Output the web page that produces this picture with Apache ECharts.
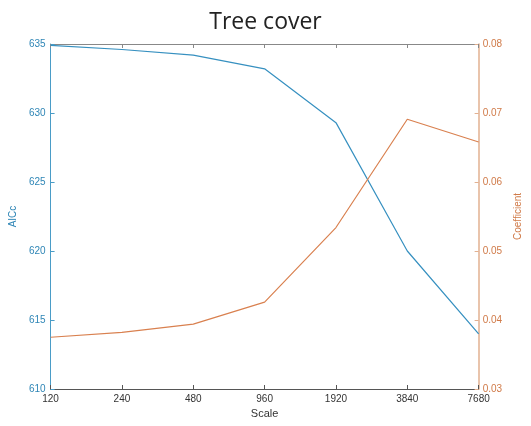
<!DOCTYPE html>
<html>
<head>
<meta charset="utf-8">
<script src="https://cdn.jsdelivr.net/npm/echarts@6/dist/echarts.min.js"></script>
<style>
  html, body { margin: 0; padding: 0; background: #fff; }
  #chart { width: 531px; height: 426px; }
</style>
</head>
<body>
<div id="chart"></div>
<script>
const scales = ['120', '240', '480', '960', '1920', '3840', '7680'];
const aicc = [634.9, 634.6, 634.2, 633.2, 629.3, 620.0, 614.0];
const coefficient = [0.0375, 0.0382, 0.0394, 0.0426, 0.0534, 0.0691, 0.0658];

const BLUE = '#2f86b6';
const ORANGE = '#d07a48';
const TICK_FONT = 'Liberation Sans, Arial, sans-serif';

const chart = echarts.init(document.getElementById('chart'));
chart.setOption({
  animation: false,
  title: {
    text: 'Tree cover',
    left: 'center',
    top: 6,
    textStyle: { fontFamily: 'Open Sans', fontWeight: 'normal', fontSize: 23, color: '#222' }
  },
  grid: { left: 47, right: 45, top: 44, bottom: 37, containLabel: false },
  xAxis: [
    {
      type: 'category',
      data: scales,
      boundaryGap: false,
      name: 'Scale',
      nameLocation: 'middle',
      nameGap: 19,
      nameTextStyle: { fontFamily: TICK_FONT, fontSize: 11, color: '#333' },
      axisLine: { lineStyle: { color: '#555', width: 1 } },
      axisTick: { inside: true, length: 4, lineStyle: { color: '#555' } },
      axisLabel: { margin: 5, fontFamily: TICK_FONT, fontSize: 10, color: '#333' },
      splitLine: { show: false }
    },
    {
      type: 'category',
      data: scales,
      boundaryGap: false,
      position: 'top',
      axisLine: { lineStyle: { color: '#888', width: 1 } },
      axisTick: { inside: true, length: 4, lineStyle: { color: '#888' } },
      axisLabel: { show: false },
      splitLine: { show: false }
    }
  ],
  yAxis: [
    {
      type: 'value',
      min: 610,
      max: 635,
      interval: 5,
      position: 'left',
      name: 'AICc',
      nameLocation: 'middle',
      nameRotate: 90,
      nameGap: 24,
      nameTextStyle: { fontFamily: TICK_FONT, fontSize: 10, color: BLUE },
      axisLine: { show: true, lineStyle: { color: '#4a9cc7', width: 1 } },
      axisTick: { show: true, inside: true, length: 4, lineStyle: { color: '#4a9cc7' } },
      axisLabel: { margin: 5, fontFamily: TICK_FONT, fontSize: 10, color: BLUE },
      splitLine: { show: false }
    },
    {
      type: 'value',
      min: 0.03,
      max: 0.08,
      interval: 0.01,
      position: 'right',
      name: 'Coefficient',
      nameLocation: 'middle',
      nameRotate: 90,
      nameGap: 27,
      nameTextStyle: { fontFamily: TICK_FONT, fontSize: 10, color: ORANGE },
      axisLine: { show: true, lineStyle: { color: '#e2b090', width: 1.5 } },
      axisTick: { show: true, inside: true, length: 4, lineStyle: { color: '#e2b090' } },
      axisLabel: { margin: 4, fontFamily: TICK_FONT, fontSize: 10, color: ORANGE },
      splitLine: { show: false }
    }
  ],
  series: [
    {
      name: 'AICc',
      type: 'line',
      data: aicc,
      xAxisIndex: 0,
      yAxisIndex: 0,
      symbol: 'none',
      lineStyle: { color: '#3690c0', width: 1.2 }
    },
    {
      name: 'Coefficient',
      type: 'line',
      data: coefficient,
      xAxisIndex: 0,
      yAxisIndex: 1,
      symbol: 'none',
      lineStyle: { color: '#d9804f', width: 1.2 }
    }
  ]
});
</script>
</body>
</html>
